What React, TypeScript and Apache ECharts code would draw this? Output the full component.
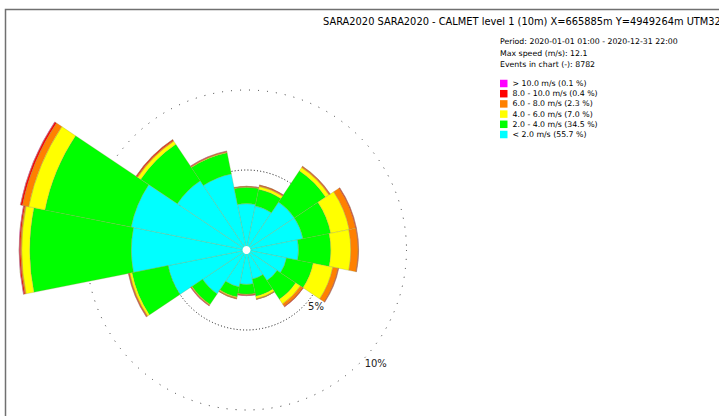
import React, { useEffect, useRef } from "react";
import * as echarts from "echarts";

const directions = ["N", "NNE", "NE", "ENE", "E", "ESE", "SE", "SSE", "S", "SSW", "SW", "WSW", "W", "WNW", "NW", "NNW"];

const titleText = "SARA2020 SARA2020 - CALMET level 1 (10m) X=665885m Y=4949264m UTM32";
const infoLines = [
  "Period: 2020-01-01 01:00 - 2020-12-31 22:00",
  "Max speed (m/s): 12.1",
  "Events in chart (-): 8782",
];

const classNames = [
  "< 2.0 m/s (55.7 %)",
  "2.0 - 4.0 m/s (34.5 %)",
  "4.0 - 6.0 m/s (7.0 %)",
  "6.0 - 8.0 m/s (2.3 %)",
  "8.0 - 10.0 m/s (0.4 %)",
  "> 10.0 m/s (0.1 %)",
];
const classColors = ["#00ffff", "#00ff00", "#ffff00", "#ff8000", "#ff0000", "#ff00ff"];

// frequency (%) per direction, per speed class
const below2 = [2.9, 2.8, 3.6, 3.6, 3.25, 2.55, 2.3, 1.85, 2.15, 2.35, 3.3, 5.0, 7.2, 7.35, 5.2, 4.85];
const from2to4 = [1.02, 1.07, 2.35, 1.77, 2.02, 1.7, 1.4, 1.1, 0.62, 0.65, 0.8, 2.3, 6.35, 5.5, 2.75, 1.35];
const from4to6 = [0.02, 0.18, 0.25, 1.18, 1.25, 1.25, 0.35, 0.15, 0.02, 0.05, 0.03, 0.13, 0.5, 1.03, 0.23, 0.03];
const from6to8 = [0.02, 0.05, 0.06, 0.4, 0.45, 0.33, 0.17, 0.03, 0.02, 0.04, 0.04, 0.05, 0.07, 0.4, 0.06, 0.03];
const from8to10 = [0.02, 0.04, 0.03, 0.05, 0.03, 0.04, 0.05, 0.02, 0.04, 0.03, 0.03, 0.04, 0.08, 0.12, 0.06, 0.04];
const above10 = [0.01, 0.01, 0.01, 0.01, 0.01, 0.01, 0.01, 0.0, 0.01, 0.0, 0.01, 0.01, 0.02, 0.02, 0.01, 0.01];

const classValues = [below2, from2to4, from4to6, from6to8, from8to10, above10];

const ringTicks = [0, 5, 10];

const FONT = "DejaVu Sans";
const CX = 246.5;
const CY = 250;
const R = 160;

export default function App() {
  const ref = useRef<HTMLDivElement>(null);
  useEffect(() => {
    if (!ref.current) return;
    const chart = echarts.init(ref.current, null, { renderer: "svg" });
    const series = classValues.map((vals, i) => ({
      type: "bar",
      name: classNames[i],
      coordinateSystem: "polar",
      polarIndex: 0,
      stack: "rose",
      data: vals,
      barCategoryGap: "0%",
      clip: false,
      silent: true,
      itemStyle: {
        color: classColors[i],
        borderColor: "rgba(150,150,80,0.55)",
        borderWidth: 0.5,
      },
    }));
    chart.setOption({
      animation: false,
      backgroundColor: "#fff",
      title: [
        {
          text: titleText,
          left: 323,
          top: 16,
          padding: 0,
          textStyle: { fontFamily: FONT, fontSize: 9.85, fontWeight: "normal", color: "#000", lineHeight: 10 },
        },
        {
          text: infoLines.join("\n"),
          left: 500,
          top: 35.6,
          padding: 0,
          textStyle: { fontFamily: FONT, fontSize: 7.8, fontWeight: "normal", color: "#000", lineHeight: 11.7 },
        },
      ],
      legend: {
        orient: "vertical",
        left: 500,
        top: 79.5,
        padding: 0,
        itemWidth: 7.5,
        itemHeight: 7.5,
        itemGap: 2.2,
        icon: "rect",
        selectedMode: false,
        data: [...classNames].reverse(),
        itemStyle: { borderWidth: 0 },
        textStyle: { fontFamily: FONT, fontSize: 7.8, lineHeight: 8, color: "#000" },
      },
      polar: [
        { center: [CX, CY], radius: R },
        { center: [CX, CY], radius: R },
      ],
      angleAxis: [
        {
          polarIndex: 0,
          type: "category",
          data: directions,
          startAngle: 90 + 180 / directions.length,
          clockwise: true,
          boundaryGap: true,
          axisLine: { show: true, lineStyle: { color: "#333", width: 1, type: [1, 8] } },
          axisTick: { show: false },
          axisLabel: { show: false },
          splitLine: { show: false },
        },
        {
          polarIndex: 1,
          type: "value",
          min: 0,
          max: 360,
          startAngle: -45,
          axisLine: { show: false },
          axisTick: { show: false },
          axisLabel: { show: false },
          splitLine: { show: false },
        },
      ],
      radiusAxis: [
        {
          polarIndex: 0,
          type: "value",
          min: ringTicks[0],
          max: ringTicks[ringTicks.length - 1],
          interval: ringTicks[1] - ringTicks[0],
          axisLine: { show: false },
          axisTick: { show: false },
          axisLabel: { show: false },
          splitLine: {
            show: true,
            lineStyle: { color: ["rgba(0,0,0,0)", "#111", "rgba(0,0,0,0)"], width: 1, type: [1, 2.2] },
          },
        },
        {
          polarIndex: 1,
          type: "value",
          min: ringTicks[0],
          max: ringTicks[ringTicks.length - 1],
          interval: ringTicks[1] - ringTicks[0],
          axisLine: { show: false },
          axisTick: { show: false },
          splitLine: { show: false },
          axisLabel: {
            show: true,
            margin: 0,
            showMinLabel: false,
            padding: [3, 0, 0, 5],
            fontFamily: FONT,
            fontSize: 10,
            color: "#222",
            formatter: (v: number) => (v === 0 ? "" : `${v}%`),
          },
        },
      ],
      graphic: [
        {
          type: "rect",
          shape: { x: 5.5, y: 9.5, width: 900, height: 600 },
          style: { fill: "none", stroke: "#707070", lineWidth: 1.5 },
          silent: true,
        },
        {
          type: "circle",
          shape: { cx: CX, cy: CY, r: 4 },
          style: { fill: "#fff" },
          z: 100,
          silent: true,
        },
      ],
      series,
    });
    return () => chart.dispose();
  }, []);
  return (
    <div
      ref={ref}
      style={{ position: "fixed", left: 0, top: 0, width: 719, height: 416, background: "#fff" }}
    />
  );
}
